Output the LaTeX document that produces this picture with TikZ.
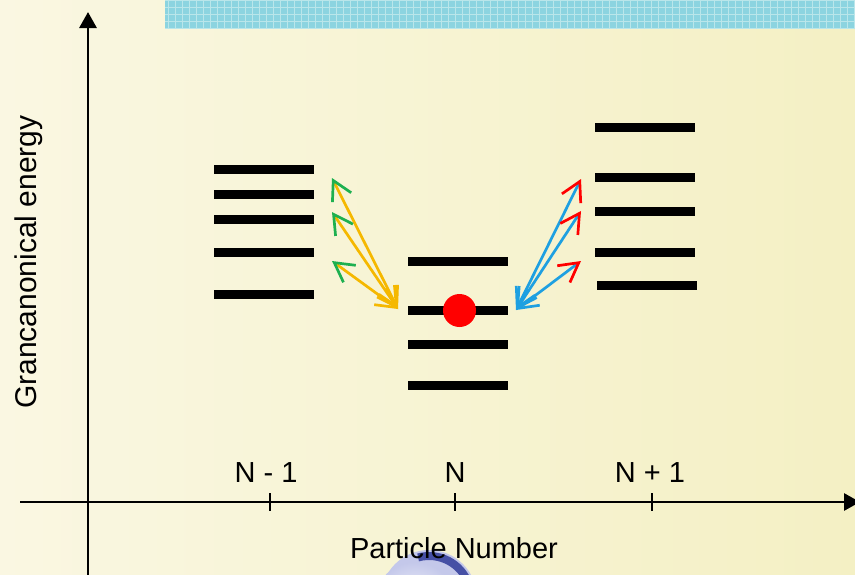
\documentclass[tikz,border=0pt]{standalone}
\usepackage{fontspec}
\setmainfont{Liberation Sans}
\usetikzlibrary{arrows.meta,shadings}

\definecolor{bgleft}{RGB}{250,247,226}
\definecolor{bgright}{RGB}{244,240,196}
\definecolor{barcyan}{RGB}{140,212,224}
\definecolor{barlight}{RGB}{186,230,234}
\definecolor{arrowyellow}{RGB}{245,184,0}
\definecolor{headgreen}{RGB}{30,176,80}
\definecolor{arrowblue}{RGB}{30,160,225}
\definecolor{headred}{RGB}{255,0,0}
\definecolor{dotred}{RGB}{255,0,0}
\definecolor{orbrim}{RGB}{70,80,165}
\definecolor{orbface}{RGB}{196,200,234}

\begin{document}
\begin{tikzpicture}[x=1pt,y=-1pt,
  level/.style={fill=black, inner sep=0pt, minimum width=100pt, minimum height=9pt},
  axis/.style={line width=2.9pt, -{Triangle[length=16pt,width=17pt]}},
  tickmark/.style={line width=2.9pt},
  lbl/.style={font=\fontsize{29}{34}\selectfont, inner sep=0pt},
  removal/.style={line width=2.7pt, draw=arrowyellow,
    {Straight Barb[length=19pt,width=21pt,line width=2.7pt,color=headgreen]}-{Straight Barb[length=19pt,width=21pt,line width=2.7pt]}},
  addition/.style={line width=2.7pt, draw=arrowblue,
    {Straight Barb[length=19pt,width=21pt,line width=2.7pt,color=headred]}-{Straight Barb[length=19pt,width=21pt,line width=2.7pt]}}
]
\useasboundingbox (0,0) rectangle (855,574);
\clip (0,0) rectangle (855,574);

% background and top banner
\shade[left color=bgleft, right color=bgright] (0,0) rectangle (855,574);
\fill[barcyan] (165,0) rectangle (855,29);
\draw[barlight, line width=0.5pt, step=7pt] (165,0) grid (855,29);

% decorative orb at the bottom
\fill[orbface] (429,598) circle (48);
\shade[inner color=white!80!orbface, outer color=orbface] (415,602) circle (40);
\draw[orbrim, line width=8pt] (429,598) ++(-105:42) arc (-105:-20:42);

% axes
\coordinate (yfoot) at (88,580);
\coordinate (ytip) at (88,12);
\coordinate (xfoot) at (20,502);
\coordinate (xtip) at (860,502);
\draw[axis] (yfoot) -- (ytip);
\draw[axis] (xfoot) -- (xtip);
\foreach \x/\n in {270/a,455/b,652/c}{
  \coordinate (t\n1) at (\x,493);
  \coordinate (t\n2) at (\x,511);
  \draw[tickmark] (t\n1) -- (t\n2);
}

% axis labels
\node[lbl, anchor=base] (nm1) at (266,482) {N - 1};
\node[lbl, anchor=base] (n0) at (455,482) {N};
\node[lbl, anchor=base] (np1) at (650,482) {N + 1};
\node[lbl, anchor=base] (xlabel) at (454,558) {Particle Number};
\node[lbl, font=\fontsize{30}{34}\selectfont, rotate=90] (ylabel) at (29,262) {Grancanonical energy};

% energy levels, N-1 particles
\node[level] (a1) at (264,169.5) {};
\node[level] (a2) at (264,194.5) {};
\node[level] (a3) at (264,219.5) {};
\node[level] (a4) at (264,252.5) {};
\node[level] (a5) at (264,294.5) {};
% energy levels, N particles
\node[level] (b1) at (458,261.5) {};
\node[level] (b2) at (458,310.5) {};
\node[level] (b3) at (458,344.5) {};
\node[level] (b4) at (458,385.5) {};
% energy levels, N+1 particles
\node[level] (c1) at (645,127.5) {};
\node[level] (c2) at (645,177.5) {};
\node[level] (c3) at (645,211.5) {};
\node[level] (c4) at (645,252.5) {};
\node[level] (c5) at (647,285.5) {};

% occupied state
\node[circle, fill=dotred, inner sep=0pt, minimum size=33pt] (dot) at (459.5,310.5) {};

% transitions to N-1
\coordinate (yb) at (398,309);
\coordinate (y1) at (332,178);
\coordinate (y2) at (332,212);
\coordinate (y3) at (332,261);
\draw[removal] (y1) -- (yb);
\draw[removal] (y2) -- (yb);
\draw[removal] (y3) -- (yb);

% transitions to N+1
\coordinate (bb) at (516,310);
\coordinate (r1) at (581,179);
\coordinate (r2) at (581,211);
\coordinate (r3) at (581,261);
\draw[addition] (r1) -- (bb);
\draw[addition] (r2) -- (bb);
\draw[addition] (r3) -- (bb);
\end{tikzpicture}
\end{document}
